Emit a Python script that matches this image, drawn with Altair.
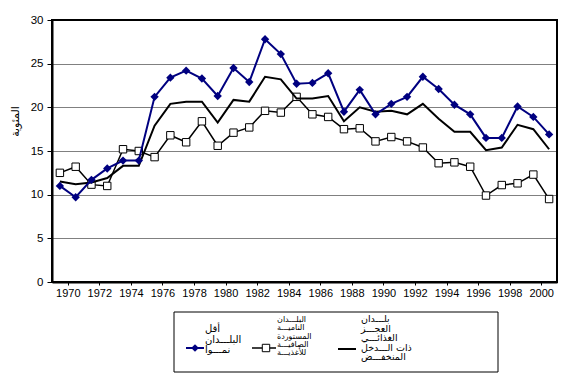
import altair as alt
import pandas as pd

# ---- data ----
years = list(range(1970, 2002))
ldc = [11.0, 9.7, 11.7, 13.0, 13.9, 13.9, 21.2, 23.4, 24.2, 23.3, 21.3, 24.5,
       22.9, 27.8, 26.1, 22.7, 22.8, 23.9, 19.5, 22.0, 19.2, 20.4, 21.2, 23.5,
       22.1, 20.3, 19.2, 16.5, 16.5, 20.1, 18.9, 16.9]
nfidc = [12.5, 13.2, 11.15, 11.0, 15.2, 15.0, 14.3, 16.8, 16.0, 18.4, 15.6, 17.1,
         17.7, 19.6, 19.4, 21.2, 19.2, 18.9, 17.5, 17.6, 16.1, 16.6, 16.1, 15.4,
         13.6, 13.7, 13.2, 9.9, 11.1, 11.3, 12.3, 9.5]
lifdc = [11.5, 11.2, 11.4, 11.9, 13.3, 13.3, 17.9, 20.4, 20.65, 20.65, 18.25, 20.85,
         20.65, 23.5, 23.2, 21.0, 21.0, 21.3, 18.4, 20.0, 19.5, 19.6, 19.2, 20.4,
         18.7, 17.2, 17.2, 15.1, 15.4, 18.0, 17.5, 15.2]
label_years = list(range(1970, 2001, 2))
y_ticks = [0, 5, 10, 15, 20, 25, 30]

legend_ldc = ["أقل", "البلـــدان", "نمـــوا"]
legend_nfidc = ["البلـــدان", "الناميـــة", "المستوردة", "الصافيـــة", "للأغذيـــة"]
legend_lifdc = ["بلـــدان", "العجـــز", "الغذائـــي", "ذات الـــدخل", "المنخفـــض"]
y_title = "المئوية"

df = pd.DataFrame({"year": years, "ldc": ldc, "nfidc": nfidc, "lifdc": lifdc})

NAVY = "#000080"
AR_FONT = "DejaVu Sans"

xscale = alt.Scale(domain=[1969.5, 2001.5], nice=False, zero=False)
yscale = alt.Scale(domain=[0, 30], nice=False)

xaxis = alt.Axis(values=[y + 0.5 for y in label_years], labelExpr="floor(datum.value)",
                 title=None, grid=False, domainColor="black", domainWidth=2,
                 tickColor="black", tickSize=3, labelFont="Liberation Sans",
                 labelFontSize=11, labelColor="black", labelPadding=2,
                 labelOverlap=False, labelFlush=False, labelBound=False)
yaxis = alt.Axis(values=y_ticks, title=y_title, grid=True, gridColor="black",
                 gridDash=[1, 1], gridWidth=1, gridOpacity=1,
                 domainColor="black", domainWidth=2, tickColor="black", tickSize=5,
                 labelFont="Liberation Sans", labelFontSize=11.5, labelColor="black",
                 labelPadding=4, titleFont=AR_FONT, titleFontSize=11,
                 titleFontWeight="normal", titleColor="black", titleAngle=-90,
                 titleX=-37, titleY=101, titleAlign="center", titleBaseline="middle")

base = alt.Chart(df)
X = alt.X("year:Q", scale=xscale, axis=xaxis)


def Y(field):
    return alt.Y(f"{field}:Q", scale=yscale, axis=yaxis)


line_nfidc = base.mark_line(color="black", strokeWidth=1.5).encode(x=X, y=Y("nfidc"))
pts_nfidc = base.mark_point(shape="square", filled=True, fill="white", stroke="black",
                            strokeWidth=1, size=55, opacity=1).encode(x=X, y=Y("nfidc"))
line_lifdc = base.mark_line(color="black", strokeWidth=2).encode(x=X, y=Y("lifdc"))
line_ldc = base.mark_line(color=NAVY, strokeWidth=2).encode(x=X, y=Y("ldc"))
pts_ldc = base.mark_point(shape="diamond", filled=True, color=NAVY, size=70,
                          opacity=1).encode(x=X, y=Y("ldc"))

# ---- custom legend (guide, placed below the plot) ----
one = alt.Data(values=[{"k": 0}])
leg_box = alt.Chart(one).mark_rect(fill="white", stroke="black", strokeWidth=1).encode(
    x=alt.value(122), x2=alt.value(446), y=alt.value(292), y2=alt.value(352))
leg_l1 = alt.Chart(one).mark_rule(color=NAVY, strokeWidth=2).encode(
    x=alt.value(134), x2=alt.value(152), y=alt.value(328))
leg_p1 = alt.Chart(one).mark_point(shape="diamond", filled=True, color=NAVY, size=60,
                                   opacity=1).encode(x=alt.value(143), y=alt.value(328))
leg_t1 = alt.Chart(one).mark_text(font=AR_FONT, fontSize=10, lineHeight=10.5,
                                  align="left", baseline="middle", color="black").encode(
    x=alt.value(153), y=alt.value(309), text=alt.value(legend_ldc))
leg_l2 = alt.Chart(one).mark_rule(color="black", strokeWidth=1.5).encode(
    x=alt.value(200), x2=alt.value(224), y=alt.value(328))
leg_p2 = alt.Chart(one).mark_point(shape="square", filled=True, fill="white",
                                   stroke="black", strokeWidth=1, size=55,
                                   opacity=1).encode(x=alt.value(214), y=alt.value(328))
leg_t2 = alt.Chart(one).mark_text(font=AR_FONT, fontSize=8, lineHeight=8.3,
                                  align="left", baseline="middle", color="black").encode(
    x=alt.value(225), y=alt.value(300), text=alt.value(legend_nfidc))
leg_l3 = alt.Chart(one).mark_rule(color="black", strokeWidth=2).encode(
    x=alt.value(286), x2=alt.value(304), y=alt.value(329))
leg_t3 = alt.Chart(one).mark_text(font=AR_FONT, fontSize=9.5, lineHeight=9.5,
                                  align="left", baseline="middle", color="black").encode(
    x=alt.value(309), y=alt.value(299), text=alt.value(legend_lifdc))

chart = alt.layer(
    line_nfidc, pts_nfidc, line_lifdc, line_ldc, pts_ldc,
    leg_box, leg_l1, leg_p1, leg_t1, leg_l2, leg_p2, leg_t2, leg_l3, leg_t3,
).properties(
    width=505, height=262,
    autosize=alt.AutoSizeParams(type="none"),
    padding={"left": 44, "top": 12, "right": 4, "bottom": 92},
    background="white",
).configure_view(stroke="black", strokeWidth=2).configure_axis(labelOverlap=False)

chart.save("out.html", embed_options={"renderer": "svg", "actions": False})
